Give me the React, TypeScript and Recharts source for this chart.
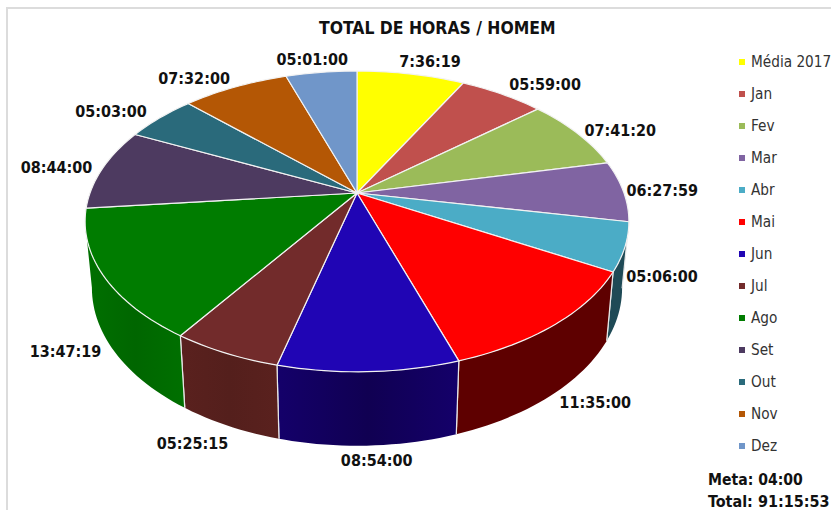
import React from 'react';
import { PieChart, Pie, Legend } from 'recharts';

const MONTHS = ['Média 2017', 'Jan', 'Fev', 'Mar', 'Abr', 'Mai', 'Jun', 'Jul', 'Ago', 'Set', 'Out', 'Nov', 'Dez'];
const SECONDS = [27379, 21540, 27680, 23279, 18360, 41700, 32040, 19515, 49639, 31440, 18180, 27120, 18060];
const HOUR_LABELS = [
  '7:36:19', '05:59:00', '07:41:20', '06:27:59', '05:06:00', '11:35:00', '08:54:00',
  '05:25:15', '13:47:19', '08:44:00', '05:03:00', '07:32:00', '05:01:00',
];
const TOP_COLORS = [
  '#ffff00', '#c0504d', '#9bbb59', '#8064a2', '#4bacc6', '#ff0000', '#2005b4',
  '#722b2b', '#007c00', '#4d3a60', '#2a6a7b', '#b45705', '#7096c9',
];
// side wall shades, [edge, middle] - only the front slices show a wall
const WALL_COLORS: Record<number, [string, string]> = {
  4: ['#1f4a56', '#1f4a56'],
  5: ['#5e0000', '#5e0000'],
  6: ['#14006a', '#100052'],
  7: ['#5a211e', '#541f1c'],
  8: ['#007000', '#006600'],
};
// label centre relative to the rim point at the slice's mid angle
const LABEL_OFFSETS = [
  [19, -13], [43, -10], [43, -3], [39, -1], [37, 30], [40, 78], [8, 89],
  [-33, 90], [-38, 76], [-46, -1], [-49, -6], [-41, -9], [-9, -13],
];

const data = MONTHS.map((name, i) => ({ name, value: SECONDS[i], fill: TOP_COLORS[i] }));

const FONT = '"DejaVu Sans Condensed", "DejaVu Sans", sans-serif';
const TILT = 145 / 267; // vertical squash of the disc
const PERSPECTIVE = 0.189;
const SIDE_LIMIT = 100.9; // clockwise degrees from the top where the wall starts to show

// clockwise degrees from 12 o'clock -> point on the top rim
const rimPoint = (deg: number, cx: number, cy: number, r: number): [number, number] => {
  const rad = (deg * Math.PI) / 180;
  const u = Math.sin(rad);
  const v = -Math.cos(rad);
  const d = 1 - PERSPECTIVE * v;
  return [cx + (r * u) / d, cy + (r * TILT * v) / d];
};

// same point on the lower rim of the wall
const lowerPoint = (deg: number, cx: number, cy: number, r: number): [number, number] => {
  const [x, y] = rimPoint(deg, cx, cy, r);
  return [cx + (x - cx) * 0.975, y + 65 + 0.05 * (y - cy)];
};

const sweep = (from: number, to: number) => {
  const out: number[] = [];
  for (let a = from; a < to; a += 1.5) out.push(a);
  out.push(to);
  return out;
};

const toPath = (pts: [number, number][]) =>
  pts.map(([x, y], i) => `${i ? 'L' : 'M'}${x.toFixed(2)},${y.toFixed(2)}`).join(' ');

const DiscSlice = (props: any) => {
  const { cx, cy, outerRadius, startAngle, endAngle, fill, index } = props;
  const a = 90 - startAngle;
  const b = 90 - endAngle;
  const face = `${toPath([[cx, cy], ...sweep(a, b).map((d) => rimPoint(d, cx, cy, outerRadius))])} Z`;

  const wa = Math.max(a, SIDE_LIMIT);
  const wb = Math.min(b, 360 - SIDE_LIMIT);
  const shades = WALL_COLORS[index];
  const hasWall = shades && wb > wa;
  const gradId = `wall-${index}`;
  let wall = '';
  if (hasWall) {
    const upper = sweep(wa, wb).map((d) => rimPoint(d, cx, cy, outerRadius));
    const lower = sweep(wa, wb).reverse().map((d) => lowerPoint(d, cx, cy, outerRadius));
    wall = `${toPath([...upper, ...lower])} Z`;
  }
  const edge = (d: number) => {
    const [x1, y1] = rimPoint(d, cx, cy, outerRadius);
    const [x2, y2] = lowerPoint(d, cx, cy, outerRadius);
    return <line x1={x1} y1={y1} x2={x2} y2={y2} stroke="#e8e8e8" strokeWidth={1.2} />;
  };

  return (
    <g>
      {hasWall && (
        <>
          <defs>
            <linearGradient id={gradId} x1="0" y1="0" x2="1" y2="0">
              <stop offset="0%" stopColor={shades[0]} />
              <stop offset="50%" stopColor={shades[1]} />
              <stop offset="100%" stopColor={shades[0]} />
            </linearGradient>
          </defs>
          <path d={wall} fill={`url(#${gradId})`} />
          {a >= SIDE_LIMIT && edge(a)}
          {b <= 360 - SIDE_LIMIT && edge(b)}
        </>
      )}
      <path d={face} fill={fill} stroke="#f2f2f2" strokeWidth={1.2} strokeLinejoin="round" />
    </g>
  );
};

const renderLabel = (props: any) => {
  const { cx, cy, outerRadius, midAngle, index } = props;
  const [x, y] = rimPoint(90 - midAngle, cx, cy, outerRadius);
  return (
    <text
      x={x + LABEL_OFFSETS[index][0]}
      y={y + LABEL_OFFSETS[index][1]}
      textAnchor="middle"
      dominantBaseline="central"
      fontFamily={FONT}
      fontWeight="bold"
      fontSize={16}
      fill="#111"
    >
      {HOUR_LABELS[index]}
    </text>
  );
};

const renderLegend = (props: any) => (
  <div>
    {props.payload.map((entry: any) => (
      <div key={entry.value} style={{ height: 32, display: 'flex', alignItems: 'center' }}>
        <span style={{ width: 6, height: 6, background: entry.color, marginRight: 6, flex: 'none' }} />
        <span style={{ fontFamily: FONT, fontSize: 15.2, color: '#333', whiteSpace: 'nowrap' }}>{entry.value}</span>
      </div>
    ))}
  </div>
);

const boldText = { position: 'absolute', fontFamily: FONT, fontWeight: 'bold', color: '#111', whiteSpace: 'nowrap' } as const;

export default function App() {
  return (
    <div style={{ position: 'absolute', left: 0, top: 0, width: 831, height: 510, overflow: 'hidden', background: '#fff' }}>
      <div style={{ position: 'absolute', left: 6, top: 7, width: 825, height: 503, borderTop: '2px solid #dcdcdc', borderLeft: '2px solid #dcdcdc' }} />
      <PieChart width={831} height={510} margin={{ top: 0, right: 0, bottom: 0, left: 0 }} style={{ position: 'absolute', left: 0, top: 0 }}>
        <Pie
          data={data}
          dataKey="value"
          nameKey="name"
          cx={357}
          cy={193}
          outerRadius={267}
          startAngle={90}
          endAngle={-270}
          shape={DiscSlice}
          label={renderLabel}
          labelLine={false}
          isAnimationActive={false}
        />
        <Legend
          content={renderLegend}
          itemSorter={null}
          layout="vertical"
          wrapperStyle={{ position: 'absolute', left: 739, top: 46, width: 92, bottom: 'auto', right: 'auto' }}
        />
      </PieChart>
      <div style={{ ...boldText, left: 319, top: 18, fontSize: 17.4 }}>TOTAL DE HORAS / HOMEM</div>
      <div style={{ ...boldText, left: 708, top: 471, fontSize: 15.6 }}>Meta: 04:00</div>
      <div style={{ ...boldText, left: 708, top: 494, fontSize: 16, lineHeight: '16px' }}>Total: 91:15:53</div>
    </div>
  );
}
